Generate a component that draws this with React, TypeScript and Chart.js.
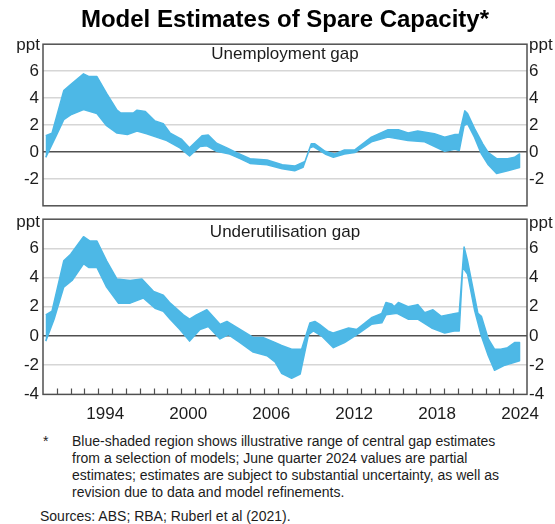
import React, { useEffect, useRef } from "react";
import { Chart, registerables } from "chart.js";

Chart.register(...registerables);

// ---- Data (decimal years, ppt) ----
const unempUpperYears = [1990.2, 1990.65, 1991.5, 1992.0, 1992.93, 1993.3, 1993.9, 1994.6, 1995.35, 1995.6, 1996.55, 1996.8, 1997.4, 1998.1, 1998.7, 1999.2, 2000.0, 2000.6, 2001.5, 2001.95, 2002.55, 2003.3, 2004.0, 2004.97, 2006.2, 2007.3, 2008.2, 2008.95, 2009.4, 2009.66, 2010.4, 2011.1, 2011.8, 2012.55, 2013.75, 2014.95, 2015.7, 2016.4, 2017.1, 2018.3, 2019.05, 2019.8, 2020.1, 2020.5, 2020.7, 2021.2, 2021.8, 2022.2, 2022.8, 2023.6, 2024.1, 2024.46];
const unempUpper = [1.2, 1.4, 4.55, 5.0, 5.8, 5.6, 5.6, 4.35, 3.1, 2.9, 2.9, 3.1, 3.0, 2.3, 2.1, 1.4, 0.95, 0.3, 1.2, 1.25, 0.65, 0.3, -0.05, -0.5, -0.6, -0.95, -1.05, -0.7, 0.6, 0.6, 0.05, -0.15, 0.15, 0.15, 1.1, 1.65, 1.65, 1.4, 1.55, 1.35, 1.1, 1.3, 1.3, 3.05, 2.85, 1.75, 0.6, -0.05, -0.5, -0.5, -0.4, -0.15];
const unempLowerYears = [1990.2, 1991.0, 1991.5, 1992.0, 1992.93, 1993.9, 1994.6, 1995.35, 1996.1, 1996.8, 1997.5, 1998.2, 1998.95, 1999.9, 2000.6, 2001.35, 2001.85, 2002.55, 2003.5, 2004.25, 2004.97, 2006.2, 2007.3, 2008.2, 2008.8, 2009.3, 2009.55, 2010.4, 2011.0, 2011.8, 2012.55, 2013.75, 2014.95, 2016.4, 2017.6, 2019.05, 2019.8, 2020.1, 2020.45, 2020.7, 2021.2, 2021.7, 2022.2, 2022.8, 2023.6, 2024.46];
const unempLower = [-0.4, 1.3, 2.4, 2.75, 3.15, 2.85, 1.95, 1.4, 1.3, 1.55, 1.35, 1.1, 0.85, 0.3, -0.3, 0.4, 0.45, 0.05, -0.15, -0.5, -0.85, -0.95, -1.25, -1.4, -1.15, 0.3, 0.4, -0.15, -0.4, -0.15, -0.05, 0.75, 1.1, 0.85, 0.75, 0.05, 0.2, 0.1, 1.95, 2.1, 1.1, -0.15, -0.95, -1.6, -1.4, -1.15];

const underUpperYears = [1990.2, 1990.65, 1991.5, 1992.0, 1992.93, 1993.4, 1993.9, 1994.6, 1995.35, 1996.3, 1997.15, 1998.0, 1998.7, 1999.2, 2000.15, 2000.6, 2001.1, 2001.85, 2002.8, 2003.3, 2004.25, 2005.2, 2005.9, 2006.8, 2007.25, 2007.98, 2008.7, 2009.3, 2009.66, 2010.0, 2010.6, 2011.0, 2012.1, 2012.7, 2013.75, 2014.5, 2014.8, 2015.2, 2015.4, 2015.7, 2016.4, 2017.1, 2017.6, 2018.2, 2018.8, 2019.8, 2020.1, 2020.45, 2020.7, 2021.45, 2021.7, 2022.2, 2022.65, 2023.1, 2023.6, 2024.1, 2024.46];
const underUpper = [1.45, 1.7, 5.15, 5.6, 6.8, 6.5, 6.5, 5.15, 3.9, 3.8, 3.9, 3.05, 2.8, 2.25, 1.45, 1.15, 1.45, 1.8, 0.8, 1.0, 0.45, -0.1, -0.1, -0.45, -0.65, -0.9, -0.9, 0.9, 1.0, 0.8, 0.35, 0.2, 0.55, 0.45, 1.25, 1.55, 2.3, 2.2, 2.0, 2.3, 2.0, 2.15, 1.6, 1.8, 1.35, 1.55, 1.6, 6.1, 5.15, 1.55, 1.35, -0.2, -0.9, -0.9, -0.8, -0.45, -0.45];
const underLowerYears = [1990.2, 1990.8, 1991.5, 1992.1, 1992.93, 1993.3, 1993.9, 1994.6, 1995.45, 1996.3, 1997.25, 1998.1, 1998.7, 1999.2, 1999.9, 2000.6, 2001.35, 2001.95, 2002.8, 2003.4, 2004.25, 2005.2, 2006.2, 2006.8, 2007.25, 2007.98, 2008.6, 2009.2, 2009.55, 2010.15, 2011.0, 2011.8, 2012.7, 2013.75, 2014.5, 2014.8, 2015.6, 2016.4, 2017.1, 2018.1, 2019.05, 2019.8, 2020.1, 2020.35, 2020.7, 2021.2, 2021.7, 2022.2, 2022.65, 2023.4, 2024.46];
const underLower = [-0.35, 1.15, 3.35, 3.8, 4.95, 4.7, 4.7, 3.35, 2.25, 2.25, 2.6, 1.9, 1.7, 1.15, 0.45, -0.35, 0.45, 0.65, -0.2, 0.1, -0.45, -1.1, -1.35, -1.8, -2.55, -2.9, -2.6, 0.1, 0.35, 0.0, -0.8, -0.45, 0.1, 0.8, 0.9, 1.45, 1.55, 1.15, 1.15, 0.55, 0.2, 0.35, 0.35, 4.7, 4.25, 1.8, 0.0, -1.35, -2.35, -2.0, -1.7];

const yTicks = [8, 6, 4, 2, 0, -2, -4];
const xLabelYears = [1994, 2000, 2006, 2012, 2018, 2024];
const X_MIN = 1990;
const X_MAX = 2025;

// ---- Styles ----
const FONT = '"Liberation Sans", Arial, Helvetica, sans-serif';
const BAND = "#4db8e6";
const TEXT = "#1c1c1c";
const FRAME = "#505050";
const GRID = "#d6d6d6";

const framePlugin = {
  id: "frame",
  afterDatasetsDraw(chart: any, _args: any, opts: any) {
    const { ctx, chartArea } = chart;
    const xs = chart.scales.x;
    ctx.save();
    ctx.strokeStyle = FRAME;
    ctx.lineWidth = 1.5;
    if (opts && opts.yearTicks) {
      ctx.lineWidth = 1.2;
      ctx.beginPath();
      for (let yr = X_MIN + 1; yr < X_MAX; yr++) {
        const px = Math.round(xs.getPixelForValue(yr)) + 0.5;
        ctx.moveTo(px, chartArea.bottom);
        ctx.lineTo(px, chartArea.bottom - 6);
      }
      ctx.stroke();
      ctx.lineWidth = 1.5;
    }
    ctx.strokeRect(chartArea.left, chartArea.top, chartArea.right - chartArea.left, chartArea.bottom - chartArea.top);
    ctx.restore();
  },
};

type PanelProps = {
  upperYears: number[];
  upper: number[];
  lowerYears: number[];
  lower: number[];
  showX: boolean;
  top: number;
  height: number;
  padTop: number;
  padBottom: number;
  xAxisHeight: number;
  labelMin: number;
};

function Panel(p: PanelProps) {
  const ref = useRef<HTMLCanvasElement | null>(null);
  useEffect(() => {
    const canvas = ref.current;
    if (!canvas) return;
    const band = [
      ...p.upperYears.map((x, i) => ({ x, y: p.upper[i] })),
      ...p.lowerYears.map((x, i) => ({ x, y: p.lower[i] })).reverse(),
    ];
    const tickFont = { family: FONT, size: 17 };
    const labelCb = (v: any) => (v >= 8 || v < p.labelMin ? "" : String(v));
    const chart = new Chart(canvas, {
      type: "line",
      data: {
        datasets: [
          {
            data: band,
            fill: "shape",
            backgroundColor: BAND,
            borderColor: BAND,
            borderWidth: 1.5,
            borderJoinStyle: "round",
            pointRadius: 0,
            tension: 0,
          } as any,
        ],
      },
      options: {
        animation: false,
        responsive: false,
        maintainAspectRatio: false,
        devicePixelRatio: 1,
        events: [],
        layout: { autoPadding: false, padding: { top: p.padTop, bottom: p.padBottom, left: 0, right: 0 } } as any,
        plugins: {
          legend: { display: false },
          tooltip: { enabled: false },
          frame: { yearTicks: p.showX },
        } as any,
        scales: {
          x: {
            type: "linear",
            min: X_MIN,
            max: X_MAX,
            display: p.showX,
            grid: { display: false, drawTicks: false },
            border: { display: false },
            afterBuildTicks: (s: any) => {
              s.ticks = xLabelYears.map((v) => ({ value: v + 0.5 }));
            },
            afterFit: (s: any) => {
              s.height = p.xAxisHeight;
            },
            ticks: {
              autoSkip: false,
              maxRotation: 0,
              padding: 10,
              color: TEXT,
              font: tickFont,
              callback: (v: any) => String(Math.floor(v)),
            },
          },
          y: {
            type: "linear",
            position: "left",
            min: -4,
            max: 8,
            afterBuildTicks: (s: any) => {
              s.ticks = yTicks.map((v) => ({ value: v }));
            },
            afterFit: (s: any) => {
              s.width = 43;
            },
            border: { display: false },
            grid: {
              drawTicks: false,
              lineWidth: 1.5,
              color: (c: any) => {
                const v = c.tick && c.tick.value;
                if (v === 8 || v === -4) return "rgba(0,0,0,0)";
                return v === 0 ? FRAME : GRID;
              },
            },
            ticks: { padding: 4, color: TEXT, font: tickFont, callback: labelCb },
          },
          y2: {
            type: "linear",
            position: "right",
            min: -4,
            max: 8,
            afterBuildTicks: (s: any) => {
              s.ticks = yTicks.map((v) => ({ value: v }));
            },
            afterFit: (s: any) => {
              s.width = 28;
            },
            border: { display: false },
            grid: { display: false, drawTicks: false },
            ticks: { padding: 2, color: TEXT, font: tickFont, callback: labelCb },
          },
        },
      } as any,
      plugins: [framePlugin],
    });
    return () => chart.destroy();
  }, []);
  return (
    <canvas
      ref={ref}
      width={555}
      height={p.height}
      style={{ position: "absolute", left: 0, top: p.top, width: 555, height: p.height }}
    />
  );
}

const txt = (extra: React.CSSProperties): React.CSSProperties => ({
  position: "absolute",
  fontFamily: FONT,
  color: TEXT,
  whiteSpace: "nowrap",
  ...extra,
});

export default function App() {
  return (
    <div style={{ position: "absolute", left: 0, top: 0, width: 555, height: 524, background: "#fff", overflow: "hidden" }}>
      <Panel
        upperYears={unempUpperYears}
        upper={unempUpper}
        lowerYears={unempLowerYears}
        lower={unempLower}
        showX={false}
        top={30}
        height={190}
        padTop={7}
        padBottom={4.3}
        xAxisHeight={0}
        labelMin={-2}
      />
      <Panel
        upperYears={underUpperYears}
        upper={underUpper}
        lowerYears={underLowerYears}
        lower={underLower}
        showX={true}
        top={205}
        height={225}
        padTop={10.7}
        padBottom={0}
        xAxisHeight={35.6}
        labelMin={-4}
      />
      <div style={txt({ left: 43, width: 484, top: 7, fontSize: 24, lineHeight: "24px", fontWeight: "bold", textAlign: "center", color: "#000" })}>
        Model Estimates of Spare Capacity*
      </div>
      <div style={txt({ left: 43, width: 484, top: 44.5, fontSize: 17, lineHeight: "17px", textAlign: "center" })}>
        Unemployment gap
      </div>
      <div style={txt({ left: 43, width: 484, top: 222.5, fontSize: 17, lineHeight: "17px", textAlign: "center" })}>
        Underutilisation gap
      </div>
      <div style={txt({ right: 555 - 40, top: 35.6, fontSize: 17, lineHeight: "17px", textAlign: "right" })}>ppt</div>
      <div style={txt({ left: 529, top: 36.2, fontSize: 17, lineHeight: "17px" })}>ppt</div>
      <div style={txt({ right: 555 - 40, top: 213.3, fontSize: 17, lineHeight: "17px", textAlign: "right" })}>ppt</div>
      <div style={txt({ left: 529, top: 213.8, fontSize: 17, lineHeight: "17px" })}>ppt</div>
      <div style={txt({ left: 43, top: 432.5, fontSize: 14, lineHeight: "17px" })}>*</div>
      <div style={txt({ left: 72, top: 432.5, fontSize: 14, lineHeight: "17px" })}>
        Blue-shaded region shows illustrative range of central gap estimates
        <br />
        from a selection of models; June quarter 2024 values are partial
        <br />
        estimates; estimates are subject to substantial uncertainty, as well as
        <br />
        revision due to data and model refinements.
      </div>
      <div style={txt({ left: 40, top: 507.5, fontSize: 14, lineHeight: "17px" })}>
        Sources: ABS; RBA; Ruberl et al (2021).
      </div>
    </div>
  );
}
